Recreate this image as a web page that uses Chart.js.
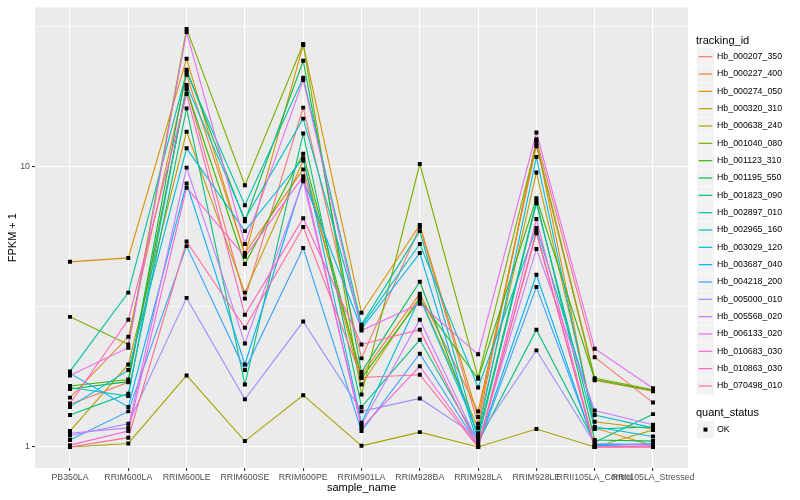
<!DOCTYPE html>
<html>
<head>
<meta charset="utf-8">
<script src="https://cdn.jsdelivr.net/npm/chart.js@4/dist/chart.umd.min.js"></script>
<style>
  html, body { margin: 0; padding: 0; background: #ffffff; }
  canvas { display: block; }
</style>
</head>
<body>
<canvas id="chart" width="800" height="500"></canvas>
<script>
const sampleNames = ['PB350LA', 'RRIM600LA', 'RRIM600LE', 'RRIM600SE', 'RRIM600PE', 'RRIM901LA',
  'RRIM928BA', 'RRIM928LA', 'RRIM928LE', 'RRII105LA_Control', 'RRII105LA_Stressed'];

const trackingIds = ['Hb_000207_350', 'Hb_000227_400', 'Hb_000274_050', 'Hb_000320_310', 'Hb_000638_240',
  'Hb_001040_080', 'Hb_001123_310', 'Hb_001195_550', 'Hb_001823_090', 'Hb_002897_010',
  'Hb_002965_160', 'Hb_003029_120', 'Hb_003687_040', 'Hb_004218_200', 'Hb_005000_010',
  'Hb_005568_020', 'Hb_006133_020', 'Hb_010683_030', 'Hb_010863_030', 'Hb_070498_010'];

// ggplot default hue palette, one colour per tracking_id
const seriesColors = ['#F8766D', '#EA8331', '#D89000', '#C09B00', '#A3A500', '#7CAE00', '#39B600',
  '#00BB4E', '#00BF7D', '#00C1A3', '#00BFC4', '#00BAE0', '#00B0F6', '#35A2FF', '#9590FF',
  '#C77CFF', '#E76BF3', '#FA62DB', '#FF62BC', '#FF6C91'];

// FPKM + 1 per sample (same order as sampleNames)
const hb_000207_350 = [1.42, 1.70, 19.1, 3.38, 16.2, 2.07, 6.08, 1.21, 12.5, 2.09, 1.44];
const hb_000227_400 = [1.50, 2.47, 21.2, 4.91, 9.76, 1.81, 3.52, 1.34, 11.8, 1.73, 1.58];
const hb_000274_050 = [4.57, 4.72, 24.2, 4.83, 27.1, 3.01, 6.18, 1.28, 12.3, 1.17, 1.01];
const hb_000320_310 = [1.14, 1.97, 13.3, 3.55, 10.5, 1.67, 3.43, 1.17, 9.52, 1.23, 1.16];
const hb_000638_240 = [1.00, 1.03, 1.80, 1.05, 1.53, 1.01, 1.13, 1.00, 1.16, 1.00, 1.15];
const hb_001040_080 = [2.91, 2.32, 30.9, 8.57, 27.3, 1.54, 10.2, 1.77, 12.1, 1.76, 1.60];
const hb_001123_310 = [1.65, 1.74, 18.8, 4.49, 11.1, 1.76, 3.35, 1.75, 7.70, 1.74, 1.59];
const hb_001195_550 = [1.61, 1.71, 22.1, 6.38, 23.8, 1.85, 3.88, 1.10, 7.51, 1.06, 1.05];
const hb_001823_090 = [1.30, 1.55, 16.1, 1.67, 13.1, 1.39, 2.41, 1.04, 2.62, 1.04, 1.31];
const hb_002897_010 = [1.86, 3.55, 21.7, 7.27, 20.7, 2.73, 5.88, 1.06, 7.39, 1.16, 1.18];
const hb_002965_160 = [1.63, 1.52, 19.5, 6.49, 14.8, 2.69, 5.29, 1.63, 6.03, 1.30, 1.17];
const hb_003029_120 = [1.39, 1.88, 11.6, 5.88, 10.7, 1.22, 3.40, 1.12, 10.8, 1.18, 1.09];
const hb_003687_040 = [1.83, 1.39, 8.70, 1.97, 9.00, 2.64, 4.91, 1.02, 4.11, 1.01, 1.03];
const hb_004218_200 = [1.06, 1.34, 5.20, 1.88, 5.12, 1.14, 2.15, 1.01, 3.72, 1.02, 1.02];
const hb_005000_010 = [1.10, 1.21, 3.40, 1.48, 2.80, 1.34, 1.49, 1.085, 2.21, 1.03, 1.02];
const hb_005568_020 = [1.12, 1.17, 9.90, 2.34, 8.85, 1.20, 2.84, 1.03, 5.08, 1.35, 1.20];
const hb_006133_020 = [1.80, 2.26, 30.1, 5.29, 20.3, 2.60, 3.24, 2.14, 13.2, 2.24, 1.62];
const hb_010683_030 = [1.016, 1.14, 8.40, 4.76, 9.22, 1.17, 1.94, 1.00, 6.49, 1.00, 1.01];
const hb_010863_030 = [1.43, 2.84, 18.1, 2.96, 6.54, 2.32, 2.62, 1.00, 5.88, 1.00, 1.00];
const hb_070498_010 = [1.00, 1.08, 5.40, 2.66, 6.08, 1.77, 1.81, 1.00, 5.78, 1.00, 1.00];

const seriesValues = [hb_000207_350, hb_000227_400, hb_000274_050, hb_000320_310, hb_000638_240,
  hb_001040_080, hb_001123_310, hb_001195_550, hb_001823_090, hb_002897_010,
  hb_002965_160, hb_003029_120, hb_003687_040, hb_004218_200, hb_005000_010,
  hb_005568_020, hb_006133_020, hb_010683_030, hb_010863_030, hb_070498_010];

// y axis breaks (log10 scale): labelled majors and unlabelled minors
const yMajorBreaks = [1, 10];
const yTickLabels = ['1', '10'];
const yMinorBreaks = [3.1623, 31.623];

const FONT = '"Liberation Sans", Arial, sans-serif';

const panelBackground = {
    id: 'panelBackground',
    beforeDraw(chart) {
        const { ctx, chartArea: { left, top, width, height } } = chart;
        ctx.save();
        ctx.fillStyle = '#EBEBEB';
        ctx.fillRect(left, top, width, height);
        ctx.restore();
    }
};

// ggplot-like legend on the right
const ggLegend = {
    id: 'ggLegend',
    afterDraw(chart) {
        const { ctx } = chart;
        ctx.save();
        ctx.textAlign = 'left';
        ctx.textBaseline = 'middle';

        ctx.fillStyle = '#000000';
        ctx.font = '11px ' + FONT;
        ctx.fillText('tracking_id', 696, 41);

        trackingIds.forEach((id, i) => {
            const y = 56.7 + i * 17.33;
            ctx.fillStyle = '#F2F2F2';
            ctx.fillRect(697, y - 8.4, 17, 16.8);
            ctx.strokeStyle = seriesColors[i];
            ctx.lineWidth = 1.2;
            ctx.beginPath();
            ctx.moveTo(698.7, y);
            ctx.lineTo(712.3, y);
            ctx.stroke();
            ctx.fillStyle = '#000000';
            ctx.font = '8.8px ' + FONT;
            ctx.fillText(id, 717, y);
        });

        ctx.font = '11px ' + FONT;
        ctx.fillText('quant_status', 696, 412.7);
        const okY = 429.6;
        ctx.fillStyle = '#F2F2F2';
        ctx.fillRect(697, okY - 8.4, 17, 16.8);
        ctx.fillStyle = '#000000';
        ctx.fillRect(703.5, okY - 2, 4, 4);
        ctx.font = '8.8px ' + FONT;
        ctx.fillText('OK', 717, okY);
        ctx.restore();
    }
};

const isMajor = (v) => yMajorBreaks.includes(v);

const lineDatasets = trackingIds.map((id, i) => ({
    label: id,
    data: seriesValues[i].map((v, j) => ({ x: j, y: v })),
    borderColor: seriesColors[i],
    borderWidth: 1.1,
    pointRadius: 0,
    tension: 0,
    fill: false,
    order: 100 - i
}));

const pointDataset = {
    label: 'OK',
    data: seriesValues.flatMap(vals => vals.map((v, j) => ({ x: j, y: v }))),
    showLine: false,
    pointStyle: 'rect',
    pointRadius: 2.8,
    pointBorderWidth: 0,
    pointBackgroundColor: '#000000',
    order: 0
};

new Chart(document.getElementById('chart').getContext('2d'), {
    type: 'line',
    data: { datasets: [...lineDatasets, pointDataset] },
    options: {
        responsive: false,
        animation: false,
        devicePixelRatio: 1,
        layout: { padding: { left: 0, top: 5, right: 112, bottom: 0 } },
        plugins: {
            legend: { display: false },
            tooltip: { enabled: false }
        },
        scales: {
            x: {
                type: 'linear',
                bounds: 'data',
                min: -0.6,
                max: 10.6,
                afterBuildTicks: (scale) => { scale.ticks = sampleNames.map((n, i) => ({ value: i })); },
                afterFit: (scale) => { scale.height = 32; },
                ticks: {
                    callback: (v, i) => sampleNames[i],
                    autoSkip: false,
                    maxRotation: 0,
                    minRotation: 0,
                    padding: 1.5,
                    color: '#4D4D4D',
                    font: { family: FONT, size: 8.8 }
                },
                grid: { color: '#FFFFFF', lineWidth: 1.1, tickColor: '#333333', tickLength: 3, tickWidth: 1.1 },
                border: { display: false },
                title: {
                    display: true,
                    text: 'sample_name',
                    color: '#000000',
                    font: { family: FONT, size: 11 },
                    padding: { top: 0, bottom: 5.4 }
                }
            },
            y: {
                type: 'logarithmic',
                bounds: 'data',
                min: 0.842,
                max: 36.9,
                afterBuildTicks: (scale) => {
                    scale.ticks = [...yMajorBreaks, ...yMinorBreaks].sort((a, b) => a - b).map(v => ({ value: v }));
                },
                afterFit: (scale) => { scale.width = 35; },
                ticks: {
                    callback: (v) => isMajor(v) ? yTickLabels[yMajorBreaks.indexOf(v)] : '',
                    autoSkip: false,
                    padding: 2,
                    color: '#4D4D4D',
                    font: { family: FONT, size: 8.8 }
                },
                grid: {
                    color: '#FFFFFF',
                    lineWidth: (c) => (c.tick && isMajor(c.tick.value)) ? 1.1 : 0.55,
                    tickColor: (c) => (c.tick && isMajor(c.tick.value)) ? '#333333' : 'rgba(0,0,0,0)',
                    tickLength: 3,
                    tickWidth: 1.1
                },
                border: { display: false },
                title: {
                    display: true,
                    text: 'FPKM + 1',
                    color: '#000000',
                    font: { family: FONT, size: 11 },
                    padding: { top: 6.4, bottom: 0 }
                }
            }
        }
    },
    plugins: [panelBackground, ggLegend]
});
</script>
</body>
</html>
